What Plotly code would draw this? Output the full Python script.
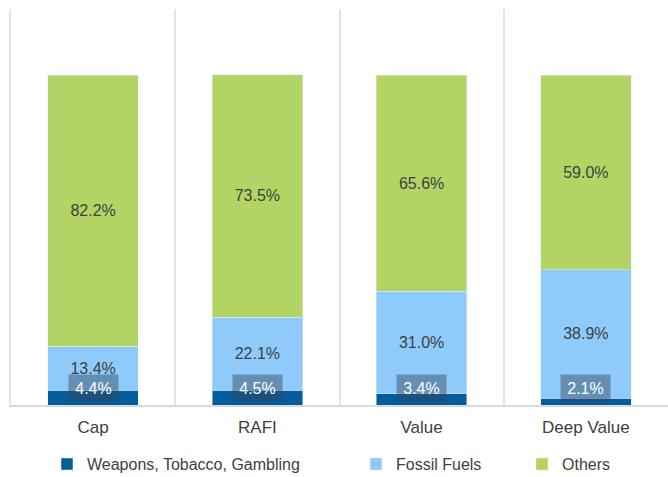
import plotly.graph_objects as go

categories = ["Cap", "RAFI", "Value", "Deep Value"]
weapons = [4.4, 4.5, 3.4, 2.1]
fossil = [13.4, 22.1, 31.0, 38.9]
others = [82.2, 73.5, 65.6, 59.0]
series_names = ["Weapons, Tobacco, Gambling", "Fossil Fuels", "Others"]
colors = ["#055c9d", "#8ecafa", "#b2d465"]

xpos = list(range(len(categories)))
FONT = "Liberation Sans, Arial, sans-serif"
TXT = "#404040"

fig = go.Figure()
fig.add_trace(go.Bar(x=xpos, y=weapons, name=series_names[0], marker_color=colors[0],
                     width=0.55, legend="legend", hoverinfo="skip"))
fig.add_trace(go.Bar(x=xpos, y=fossil, name=series_names[1], marker_color=colors[1],
                     width=0.55, legend="legend2",
                     text=[f"{v:.1f}%" for v in fossil], textposition="inside",
                     insidetextanchor="middle", textangle=0,
                     textfont=dict(size=16, color=TXT, family=FONT)))
fig.add_trace(go.Bar(x=xpos, y=others, name=series_names[2], marker_color=colors[2],
                     width=0.55, legend="legend3",
                     text=[f"{v:.1f}%" for v in others], textposition="inside",
                     insidetextanchor="middle", textangle=0,
                     textfont=dict(size=16, color=TXT, family=FONT)))

for x, v in zip(xpos, weapons):
    fig.add_annotation(x=x, y=0, xref="x", yref="y", text=f"{v:.1f}%",
                       showarrow=False, yanchor="bottom", yshift=3,
                       width=47, height=24, bgcolor="rgba(50,70,90,0.45)",
                       font=dict(size=16, color="white", family=FONT))

legend_common = dict(orientation="h", xref="container", yref="container",
                     y=0.027, yanchor="middle", bgcolor="rgba(0,0,0,0)",
                     font=dict(size=16, color=TXT, family=FONT), itemwidth=30)
fig.update_layout(
    width=668, height=477,
    margin=dict(l=11, r=0, t=9, b=72, autoexpand=False),
    barmode="stack",
    plot_bgcolor="white", paper_bgcolor="white",
    font=dict(family=FONT, color=TXT),
    showlegend=True,
    legend=dict(x=47/668, xanchor="left", **legend_common),
    legend2=dict(x=356/668, xanchor="left", **legend_common),
    legend3=dict(x=522/668, xanchor="left", **legend_common),
    xaxis=dict(range=[-0.5, 3.5], tickvals=xpos, ticktext=categories,
               showgrid=False, zeroline=False, showline=True,
               linecolor="#d9d9d9", linewidth=2, ticks="", ticklabelstandoff=6,
               tickfont=dict(size=17, color=TXT, family=FONT),
               minor=dict(tickvals=[-0.5, 0.5, 1.5, 2.5, 3.5], showgrid=True,
                          gridcolor="#e3e3e3", gridwidth=2, ticks="")),
    yaxis=dict(range=[0, 120], showgrid=False, zeroline=False, showticklabels=False,
               showline=True, mirror=True, linecolor="#e3e3e3", linewidth=2, ticks=""),
    bargap=0.45,
)
fig.write_html("out.html", config={"displayModeBar": False},
               post_script="document.body.style.margin='0';document.body.style.overflow='hidden';")
